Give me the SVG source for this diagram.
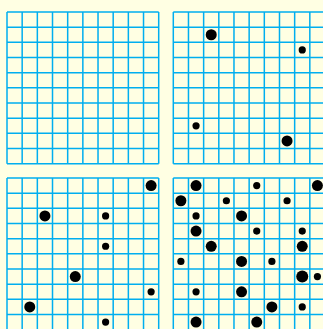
<svg xmlns="http://www.w3.org/2000/svg" xmlns:xlink="http://www.w3.org/1999/xlink" width="323" height="329" viewBox="0 0 323 329">
<style>
.grid{fill:none;stroke:#00AEEF;stroke-width:1.5}
.b{fill:#000}
</style>
<defs>
<path id="g" class="grid" d="M0 0V151.7M15.17 0V151.7M30.34 0V151.7M45.51 0V151.7M60.68 0V151.7M75.85 0V151.7M91.02 0V151.7M106.19 0V151.7M121.36 0V151.7M136.53 0V151.7M151.7 0V151.7M0 0H151.7M0 15.17H151.7M0 30.34H151.7M0 45.51H151.7M0 60.68H151.7M0 75.85H151.7M0 91.02H151.7M0 106.19H151.7M0 121.36H151.7M0 136.53H151.7M0 151.7H151.7"/>
</defs>
<rect width="323" height="329" fill="#FFFFE3"/>
<g id="panel1">
<use xlink:href="#g" x="7" y="12"/>
</g>
<g id="panel2">
<use xlink:href="#g" x="173.3" y="12"/>
<g class="b" transform="translate(180.885,19.585)">
<circle cx="30.34" cy="15.17" r="5.5"/>
<circle cx="121.36" cy="30.34" r="3.6"/>
<circle cx="15.17" cy="106.19" r="3.6"/>
<circle cx="106.19" cy="121.36" r="5.5"/>
</g>
</g>
<g id="panel3">
<use xlink:href="#g" x="7" y="178"/>
<g class="b" transform="translate(14.585,185.585)">
<circle cx="136.53" cy="0" r="5.5"/>
<circle cx="30.34" cy="30.34" r="5.5"/>
<circle cx="91.02" cy="30.34" r="3.6"/>
<circle cx="91.02" cy="60.68" r="3.6"/>
<circle cx="60.68" cy="91.02" r="5.5"/>
<circle cx="136.53" cy="106.19" r="3.6"/>
<circle cx="15.17" cy="121.36" r="5.5"/>
<circle cx="91.02" cy="136.53" r="3.6"/>
</g>
</g>
<g id="panel4">
<use xlink:href="#g" x="173.3" y="178"/>
<g class="b" transform="translate(180.885,185.585)">
<circle cx="15.17" cy="0" r="5.5"/>
<circle cx="75.85" cy="0" r="3.6"/>
<circle cx="136.53" cy="0" r="5.5"/>
<circle cx="0" cy="15.17" r="5.5"/>
<circle cx="45.51" cy="15.17" r="3.6"/>
<circle cx="106.19" cy="15.17" r="3.6"/>
<circle cx="15.17" cy="30.34" r="3.6"/>
<circle cx="60.68" cy="30.34" r="5.5"/>
<circle cx="15.17" cy="45.51" r="5.5"/>
<circle cx="75.85" cy="45.51" r="3.6"/>
<circle cx="121.36" cy="45.51" r="3.6"/>
<circle cx="30.34" cy="60.68" r="5.5"/>
<circle cx="121.36" cy="60.68" r="5.5"/>
<circle cx="0" cy="75.85" r="3.6"/>
<circle cx="60.68" cy="75.85" r="5.5"/>
<circle cx="91.02" cy="75.85" r="3.6"/>
<circle cx="121.36" cy="91.02" r="6"/>
<circle cx="136.53" cy="91.02" r="3.6"/>
<circle cx="15.17" cy="106.19" r="3.6"/>
<circle cx="60.68" cy="106.19" r="5.5"/>
<circle cx="91.02" cy="121.36" r="5.5"/>
<circle cx="121.36" cy="121.36" r="3.6"/>
<circle cx="15.17" cy="136.53" r="5.5"/>
<circle cx="75.85" cy="136.53" r="5.5"/>
</g>
</g>
</svg>
